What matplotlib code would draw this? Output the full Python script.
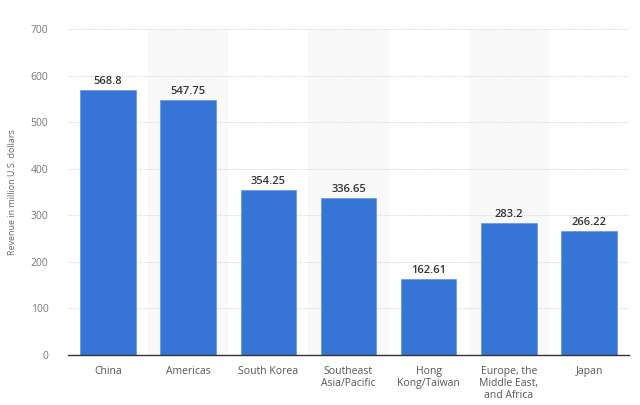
import matplotlib
matplotlib.use("Agg")
from matplotlib import pyplot as plt

regions = ["China", "Americas", "South Korea", "Southeast\nAsia/Pacific",
           "Hong\nKong/Taiwan", "Europe, the\nMiddle East,\nand Africa", "Japan"]
revenue = [568.8, 547.75, 354.25, 336.65, 162.61, 283.2, 266.22]
value_labels = ["568.8", "547.75", "354.25", "336.65", "162.61", "283.2", "266.22"]
y_ticks = [0, 100, 200, 300, 400, 500, 600, 700]

plt.rcParams['font.family'] = ['Open Sans', 'DejaVu Sans']

fig = plt.figure(figsize=(6.4, 4.05), dpi=100)
ax = fig.add_axes([0.106, 0.1235, 0.877, 0.8045])

x = list(range(len(regions)))

# alternating background bands
for i in x:
    if i % 2 == 1:
        ax.axvspan(i - 0.5, i + 0.5, color="#f9f9f9", zorder=0, lw=0)

ax.set_axisbelow(True)
ax.yaxis.grid(True, linestyle=(0, (1, 1)), color="#d9d9d9", lw=0.8)

bars = ax.bar(x, revenue, width=0.69, color="#3675d6", edgecolor="#6a9be6",
              linewidth=0.6, zorder=2)

for xi, v, lab in zip(x, revenue, value_labels):
    ax.text(xi, v + 7, lab, ha="center", va="bottom", fontsize=8,
            fontweight="semibold", color="#333333")

ax.set_xlim(-0.5, 6.5)
ax.set_ylim(0, 700)
ax.set_yticks(y_ticks)
ax.set_xticks(x)
ax.set_xticklabels(regions, fontsize=7.5, color="#555555", linespacing=1.15)
ax.tick_params(axis="y", labelsize=7.5, labelcolor="#777777", length=0, pad=14)
ax.tick_params(axis="x", length=0, pad=8)

for s in ["top", "right", "left"]:
    ax.spines[s].set_visible(False)
ax.spines["bottom"].set_color("#333333")
ax.spines["bottom"].set_linewidth(1.0)

ax.set_ylabel("Revenue in million U.S. dollars", fontsize=6.5, color="#666666",
              labelpad=10)

plt.savefig("out.png", dpi=100)
plt.close()
